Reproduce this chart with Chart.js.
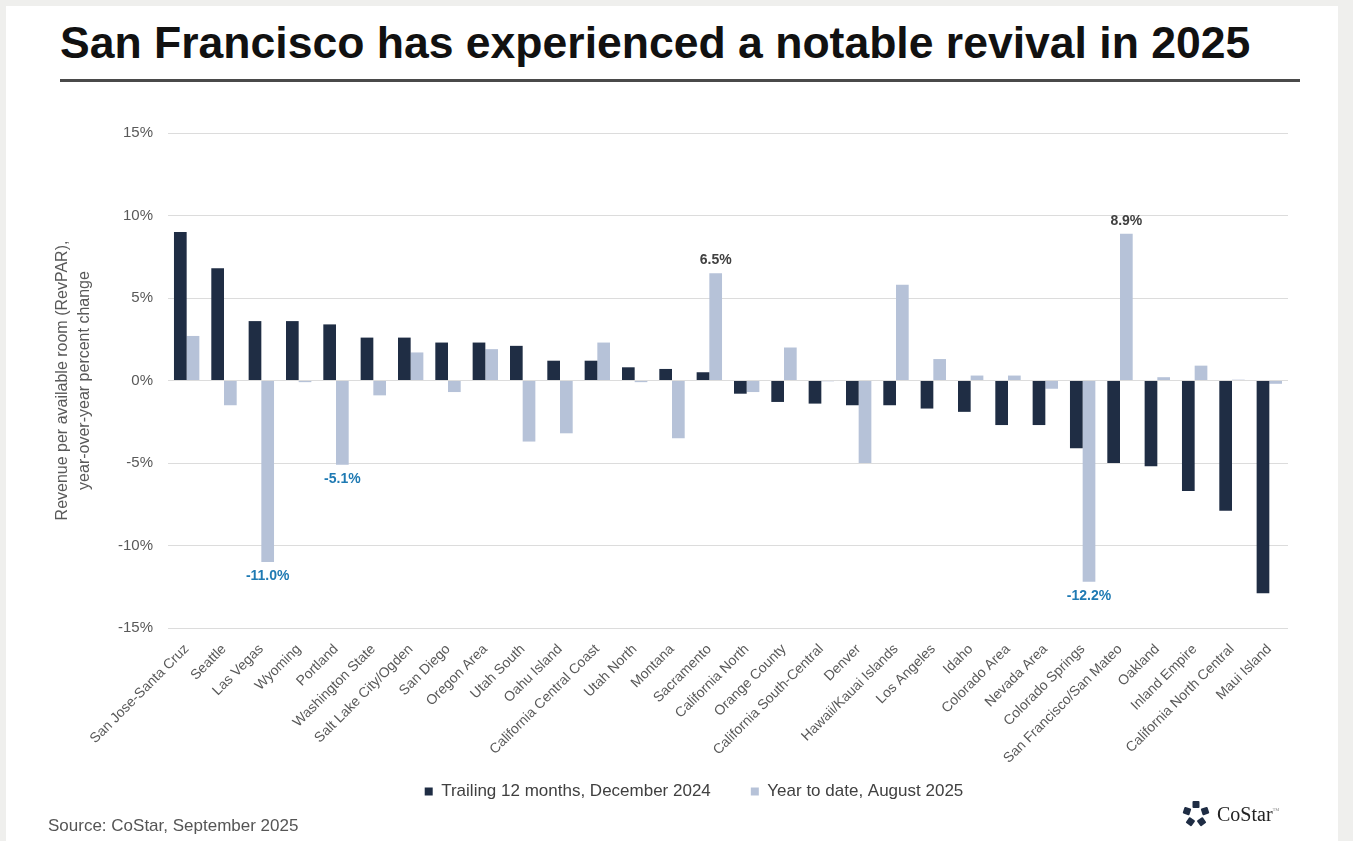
<!DOCTYPE html>
<html>
<head>
<meta charset="utf-8">
<script src="https://cdn.jsdelivr.net/npm/chart.js@4.4.1/dist/chart.umd.min.js"></script>
<style>
  html, body { margin: 0; padding: 0; }
  body {
    width: 1353px; height: 841px; overflow: hidden; position: relative;
    background: #efefed; font-family: "Liberation Sans", Arial, sans-serif;
  }
  #card { position: absolute; left: 6px; top: 6px; width: 1332px; height: 840px; background: #fff; }
  #title {
    position: absolute; left: 60px; top: 18px; font-size: 44px; font-weight: bold;
    color: #111; white-space: nowrap; transform-origin: 0 0;
  }
  #rule { position: absolute; left: 60px; top: 79px; width: 1240px; height: 3px; background: #4a4a4a; }
  #wrap { position: absolute; left: 0; top: 0; width: 1353px; height: 841px; }
  #source { position: absolute; left: 48px; top: 816px; font-size: 17px; color: #555; }
  #logo { position: absolute; left: 1182px; top: 800px; display: flex; align-items: center; }
  #logo span { font-family: "Liberation Serif", serif; font-size: 20px; color: #222; margin-left: 7px; }
</style>
</head>
<body>
<div id="card"></div>
<div id="title">San Francisco has experienced a notable revival in 2025</div>
<div id="rule"></div>
<div id="wrap"><canvas id="revparChart"></canvas></div>
<div id="source">Source: CoStar, September 2025</div>
<div id="logo">
  <svg width="28" height="28" viewBox="-14 -14 28 28">
    <g fill="#1f2d44">
      <rect x="-3.5" y="-13" width="7" height="7" rx="1" transform="rotate(0)"></rect>
      <rect x="-3.5" y="-13" width="7" height="7" rx="1" transform="rotate(72)"></rect>
      <rect x="-3.5" y="-13" width="7" height="7" rx="1" transform="rotate(144)"></rect>
      <rect x="-3.5" y="-13" width="7" height="7" rx="1" transform="rotate(216)"></rect>
      <rect x="-3.5" y="-13" width="7" height="7" rx="1" transform="rotate(288)"></rect>
    </g>
  </svg>
  <span>CoStar<sup style="font-size:7px;color:#888">™</sup></span>
</div>
<script>
const regions = [
  "San Jose-Santa Cruz", "Seattle", "Las Vegas", "Wyoming", "Portland",
  "Washington State", "Salt Lake City/Ogden", "San Diego", "Oregon Area", "Utah South",
  "Oahu Island", "California Central Coast", "Utah North", "Montana", "Sacramento",
  "California North", "Orange County", "California South-Central", "Denver", "Hawaii/Kauai Islands",
  "Los Angeles", "Idaho", "Colorado Area", "Nevada Area", "Colorado Springs",
  "San Francisco/San Mateo", "Oakland", "Inland Empire", "California North Central", "Maui Island"
];
const trailing12 = [
  9.0, 6.8, 3.6, 3.6, 3.4,
  2.6, 2.6, 2.3, 2.3, 2.1,
  1.2, 1.2, 0.8, 0.7, 0.5,
  -0.8, -1.3, -1.4, -1.5, -1.5,
  -1.7, -1.9, -2.7, -2.7, -4.1,
  -5.0, -5.2, -6.7, -7.9, -12.9
];
const ytdAug = [
  2.7, -1.5, -11.0, -0.1, -5.1,
  -0.9, 1.7, -0.7, 1.9, -3.7,
  -3.2, 2.3, -0.1, -3.5, 6.5,
  -0.7, 2.0, -0.05, -5.0, 5.8,
  1.3, 0.3, 0.3, -0.5, -12.2,
  8.9, 0.2, 0.9, 0.05, -0.2
];
const seriesNames = ["Trailing 12 months, December 2024", "Year to date, August 2025"];
const yMin = -15;
const yMax = 15;
const yStep = 5;
// YTD bars that carry a value label
const callouts = [2, 4, 14, 24, 25];

const fontFamily = '"Liberation Sans", Arial, sans-serif';

// value labels for the highlighted YTD bars
const calloutPlugin = {
  id: "callouts",
  afterDatasetsDraw(chart) {
    const meta = chart.getDatasetMeta(1);
    const ctx = chart.ctx;
    ctx.save();
    ctx.font = "bold 14px " + fontFamily;
    ctx.textAlign = "center";
    callouts.forEach((i) => {
      const v = ytdAug[i];
      const bar = meta.data[i];
      const up = v > 0;
      ctx.fillStyle = up ? "#404040" : "#1f7ab3";
      ctx.textBaseline = up ? "bottom" : "top";
      ctx.fillText(v.toFixed(1) + "%", bar.x, up ? bar.y - 6 : bar.y + 7);
    });
    ctx.restore();
  },
};

// nudge the legend so it sits where the original does
const legendShift = {
  id: "legendShift",
  afterLayout(chart) {
    const lg = chart.legend;
    lg.left += 50;
    lg.right += 50;
    lg.top -= 30;
    lg.bottom -= 30;
  },
};

new Chart(document.getElementById("revparChart"), {
  type: "bar",
  data: {
    labels: regions,
    datasets: [
      {
        label: seriesNames[0],
        data: trailing12,
        backgroundColor: "#1f2d44",
        barPercentage: 1,
        categoryPercentage: 0.68,
      },
      {
        label: seriesNames[1],
        data: ytdAug,
        backgroundColor: "#b6c2d8",
        barPercentage: 1,
        categoryPercentage: 0.68,
      },
    ],
  },
  options: {
    responsive: true,
    maintainAspectRatio: false,
    animation: false,
    layout: { padding: { top: 133, right: 65, bottom: 1, left: 0 } },
    plugins: {
      tooltip: { enabled: false },
      legend: {
        position: "bottom",
        labels: {
          boxWidth: 8,
          boxHeight: 8,
          padding: 40,
          color: "#404040",
          font: { family: fontFamily, size: 17 },
        },
      },
    },
    scales: {
      x: {
        grid: { display: false },
        border: { display: false },
        ticks: {
          autoSkip: false,
          minRotation: 45,
          maxRotation: 45,
          padding: 5,
          color: "#595959",
          font: { family: fontFamily, size: 14 },
        },
        afterFit(scale) { scale.height = 145; },
      },
      y: {
        min: yMin,
        max: yMax,
        grid: { color: "#dcdcdc", drawTicks: false, lineWidth: 1 },
        border: { display: false },
        ticks: {
          stepSize: yStep,
          padding: 15,
          color: "#595959",
          font: { family: fontFamily, size: 15 },
          callback: (v) => v + "%",
        },
        title: {
          display: true,
          text: ["Revenue per available room (RevPAR),", "year-over-year percent change"],
          color: "#595959",
          font: { family: fontFamily, size: 16, lineHeight: 1.35 },
          padding: { top: 52, bottom: 0 },
        },
        afterFit(scale) { scale.width = 168; },
      },
    },
  },
  plugins: [calloutPlugin, legendShift],
});

// squeeze the title to the width it has in the original
const title = document.getElementById("title");
title.style.transform = "scaleX(" + (1190 / title.offsetWidth) + ")";
</script>
</body>
</html>
